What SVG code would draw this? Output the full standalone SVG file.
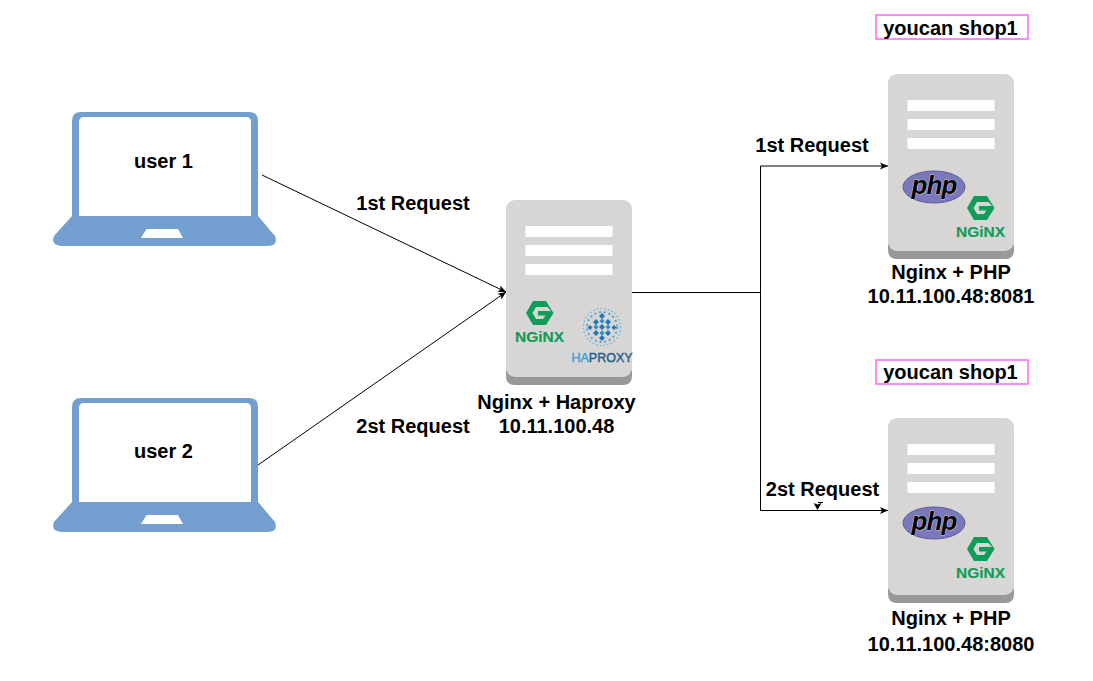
<svg xmlns="http://www.w3.org/2000/svg" width="1093" height="681" viewBox="0 0 1093 681">
<style>
text{font-family:"Liberation Sans",Arial,sans-serif;font-weight:700;font-size:20px;fill:#000;text-anchor:middle}
.c{fill:none;stroke:#000;stroke-width:1}
.bar{fill:#fff}
.ng{font-size:14.500px;fill:#0f9d58;stroke:#0f9d58;stroke-width:.2}
.php{font-size:26px;font-style:italic;fill:#000;stroke:#fff;stroke-width:.6;paint-order:stroke;letter-spacing:-.8px}
.lbl{fill:#fff;stroke:#ff66ff;stroke-width:1.5}
</style>
<defs>
<marker id="a" markerWidth="10" markerHeight="8" refX="8" refY="4" orient="auto" markerUnits="userSpaceOnUse"><path d="M0 .5L8 4L0 7.500L2 4Z" fill="#000"/></marker>
<g id="laptop">
<path fill="#729fcf" d="M72 216V121Q72 112 81 112H249Q258 112 258 121V216L275 236Q279 246 266 246H64Q50 246 54 236Z"/>
<path fill="#fff" d="M79 216V122Q79 117 84 117H246Q251 117 251 122V216Z"/>
<path fill="#fff" d="M146.500 229H178L183 238H141Z"/>
</g>
<g id="server">
<path fill="#999797" d="M0 170H126V176Q126 185 117 185H9Q0 185 0 176Z"/>
<rect width="126" height="177" rx="9" fill="#d7d6d5"/>
<rect class="bar" x="19.500" y="26" width="87" height="11"/>
<rect class="bar" x="19.500" y="45" width="87" height="11"/>
<rect class="bar" x="19.500" y="64" width="87" height="11"/>
</g>
<g id="nginx">
<path fill="#0f9d58" d="M7 0H20L27.500 12L20 24H7L0 12ZM10 6L6.500 12L10 18H17L19.500 14.500H12V10H25L21.500 6Z"/>
<text class="ng" x="13.500" y="40.500" textLength="49" lengthAdjust="spacingAndGlyphs">NGiNX</text>
</g>
<g id="php">
<ellipse cx="0" cy="0" rx="31" ry="16" fill="#7a78b8" stroke="#5c5a9e"/>
<text class="php" x="0" y="7">php</text>
</g>
</defs>
<g id="connectors">
<path class="c" d="M262 175L506 292" marker-end="url(#a)"/>
<path class="c" d="M258 465L506 292" marker-end="url(#a)"/>
<path class="c" d="M632 292.500H760.500V166H888" marker-end="url(#a)"/>
<path class="c" d="M760.500 292.500V510.500H888" marker-end="url(#a)"/>
<path d="M813.500 503L817.500 504.500L821.500 503L817.500 510Z" fill="#000"/>
<path class="c" d="M818 502.500H823"/>
<text x="413" y="210">1st Request</text>
<text x="413" y="433">2st Request</text>
<text x="812" y="152">1st Request</text>
<text x="822.500" y="496">2st Request</text>
</g>
<g id="user1"><use href="#laptop"/><text x="163.500" y="168">user 1</text></g>
<g id="user2"><use href="#laptop" y="286"/><text x="163.500" y="458">user 2</text></g>
<g id="proxy">
<use href="#server" x="506" y="200"/>
<use href="#nginx" x="526" y="301"/>
<g id="haproxy-mark">
<circle cx="602" cy="327" r="18.500" fill="none" stroke="#5fb0e0" stroke-width="1.200" stroke-dasharray="1.500 2.200"/>
<circle cx="602" cy="327" r="15" fill="none" stroke="#4a9fd4" stroke-width="1.800" stroke-dasharray="2 2.800"/>
<path fill="#1f78b4" d="M602 313l3 3-3 3-3-3zM596 319l3 3-3 3-3-3zM608 319l3 3-3 3-3-3zM590 325l2.500 2.500-2.500 2.500-2.500-2.500zM602 324l3 3-3 3-3-3zM614 325l2.500 2.500-2.500 2.500-2.500-2.500zM596 330l3 3-3 3-3-3zM608 330l3 3-3 3-3-3zM602 335l3 3-3 3-3-3z"/>
<path fill="#2b8bc9" d="M596 324.500l2.500 2.500-2.500 2.500-2.500-2.500zM608 324.500l2.500 2.500-2.500 2.500-2.500-2.500zM602 318.500l2.500 2.500-2.500 2.500-2.500-2.500zM602 330.500l2.500 2.500-2.500 2.500-2.500-2.500z"/>
</g>
<text x="602" y="362" style="font-size:12.500px;font-weight:400;fill:#1d5f8a;stroke:#1d5f8a;stroke-width:.4"><tspan fill="#3f9fdc" stroke="#3f9fdc">HA</tspan>PROXY</text>
<text x="556.500" y="409">Nginx + Haproxy</text>
<text x="556.500" y="433">10.11.100.48</text>
</g>
<g id="shop1">
<rect class="lbl" x="876" y="15" width="152" height="24"/>
<text x="950.500" y="35">youcan shop1</text>
<use href="#server" x="888" y="74"/>
<use href="#php" x="934" y="187"/>
<use href="#nginx" x="967" y="196"/>
<text x="951" y="279">Nginx + PHP</text>
<text x="951" y="303">10.11.100.48:8081</text>
</g>
<g id="shop2">
<rect class="lbl" x="876" y="360" width="152" height="24"/>
<text x="950.500" y="379">youcan shop1</text>
<use href="#server" x="888" y="418"/>
<use href="#php" x="934" y="523"/>
<use href="#nginx" x="967" y="537"/>
<text x="951" y="625">Nginx + PHP</text>
<text x="951" y="651">10.11.100.48:8080</text>
</g>
</svg>
